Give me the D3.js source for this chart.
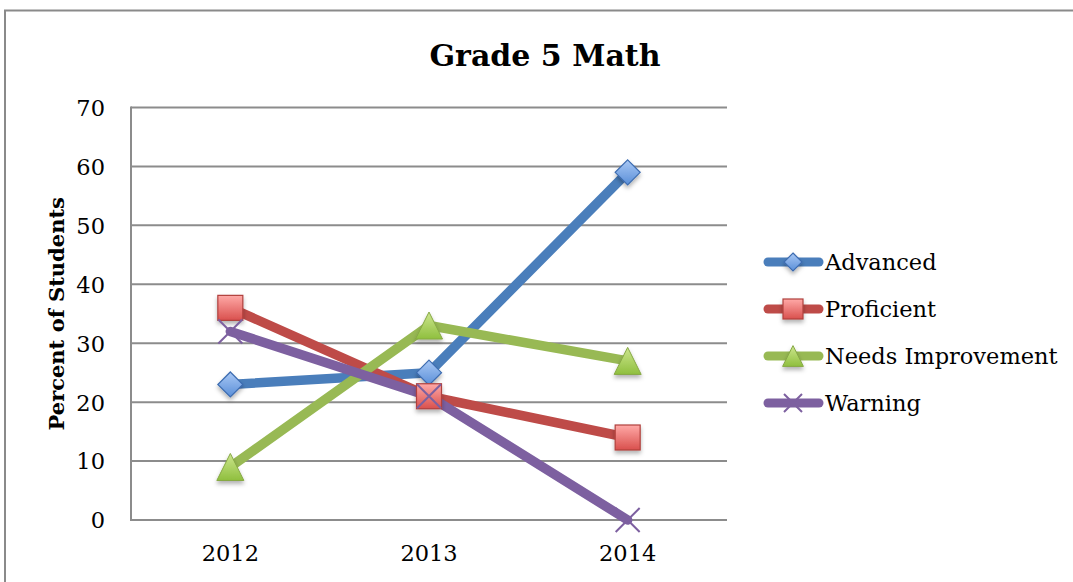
<!DOCTYPE html>
<html><head><meta charset="utf-8">
<script src="https://cdn.jsdelivr.net/npm/d3@7"></script>
<style>html,body{margin:0;padding:0;background:#fff;}svg{display:block;}</style>
</head><body>
<svg id="chart" width="1073" height="582"></svg>
<script>
const categories = ["2012", "2013", "2014"];
const seriesNames = ["Advanced", "Proficient", "Needs Improvement", "Warning"];
const advanced = [23, 25, 59];
const proficient = [36, 21, 14];
const needsImprovement = [9, 33, 27];
const warning = [32, 21, 0];
const yTicks = [0, 10, 20, 30, 40, 50, 60, 70];
const title = "Grade 5 Math";
const yTitle = "Percent of Students";

const seriesValues = [advanced, proficient, needsImprovement, warning];
const styles = [
  {line:"#4a7ebb", light:"#a9c8f5", dark:"#5a8fd8", stroke:"#3d6cb0", marker:"diamond"},
  {line:"#be4b48", light:"#ffa9a7", dark:"#d9504d", stroke:"#b0403d", marker:"square"},
  {line:"#98b954", light:"#cde68e", dark:"#8fbf3e", stroke:"#86a844", marker:"triangle"},
  {line:"#7d60a0", light:"#7d60a0", dark:"#7d60a0", stroke:"#7d60a0", marker:"x"}
];

const svg = d3.select("#chart");
const font = "'DejaVu Serif', serif";
const defs = svg.append("defs");
styles.forEach((s,i)=>{
  const g = defs.append("linearGradient").attr("id","g"+i).attr("x1",0).attr("y1",0).attr("x2",0).attr("y2",1);
  g.append("stop").attr("offset","0%").attr("stop-color",s.light);
  g.append("stop").attr("offset","100%").attr("stop-color",s.dark);
});
const f = defs.append("filter").attr("id","shadow").attr("x","-50%").attr("y","-50%").attr("width","200%").attr("height","200%");
f.append("feDropShadow").attr("dx",0).attr("dy",3).attr("stdDeviation",2).attr("flood-color","#000").attr("flood-opacity",0.3);

// outer border
svg.append("rect").attr("x",5).attr("y",10.5).attr("width",1200).attr("height",700)
  .attr("fill","#fff").attr("stroke","#8a8a8a").attr("stroke-width",2);

const plot = {left:131, right:727, top:107.5, bottom:520};
const x = d3.scaleBand().domain(categories).range([plot.left, plot.right]);
const y = d3.scaleLinear().domain([0,70]).range([plot.bottom, plot.top]);

// gridlines
svg.append("g").selectAll("line").data(yTicks).join("line")
  .attr("x1",plot.left).attr("x2",plot.right)
  .attr("y1",d=>y(d)).attr("y2",d=>y(d))
  .attr("stroke","#8c8c8c").attr("stroke-width",2);
// y axis line
svg.append("line").attr("x1",plot.left).attr("x2",plot.left).attr("y1",plot.top-1).attr("y2",plot.bottom+1)
  .attr("stroke","#8c8c8c").attr("stroke-width",2);

// y axis labels
const yAxis = d3.axisLeft(y).tickValues(yTicks).tickSize(0).tickPadding(26);
const yg = svg.append("g").attr("transform",`translate(${plot.left},0)`).call(yAxis);
yg.select(".domain").remove();
yg.selectAll("text").attr("font-family",font).attr("font-size",22.5).attr("fill","#000").attr("dy","0.35em");

// x axis labels
const xAxis = d3.axisBottom(x).tickSize(0).tickPadding(25);
const xg = svg.append("g").attr("transform",`translate(0,${plot.bottom})`).call(xAxis);
xg.select(".domain").remove();
xg.selectAll("text").attr("font-family",font).attr("font-size",22.5).attr("fill","#000");

// title
svg.append("text").attr("x",545).attr("y",66).attr("text-anchor","middle")
  .attr("font-family",font).attr("font-weight","bold").attr("font-size",30).text(title);
svg.append("text").attr("transform",`translate(64,${(plot.top+plot.bottom)/2}) rotate(-90)`)
  .attr("text-anchor","middle").attr("font-family",font).attr("font-weight","bold").attr("font-size",21).text(yTitle);

function drawMarker(g, type, i, size){
  const s = styles[i];
  const h = size*0.5;
  if(type==="diamond"){
    g.append("path").attr("d",`M0,${-h}L${h},0L0,${h}L${-h},0Z`)
      .attr("fill",`url(#g${i})`).attr("stroke",s.stroke).attr("stroke-width",1.2);
  } else if(type==="square"){
    g.append("rect").attr("x",-h).attr("y",-h).attr("width",size).attr("height",size)
      .attr("fill",`url(#g${i})`).attr("stroke",s.stroke).attr("stroke-width",1.2);
  } else if(type==="triangle"){
    const w=size*0.52, hh=size*0.52;
    g.append("path").attr("d",`M0,${-hh}L${w},${hh}L${-w},${hh}Z`)
      .attr("fill",`url(#g${i})`).attr("stroke",s.stroke).attr("stroke-width",1);
  } else {
    g.append("path").attr("d",`M${-h},${-h}L${h},${h}M${-h},${h}L${h},${-h}`)
      .attr("stroke",s.stroke).attr("stroke-width",2).attr("fill","none");
  }
}

const line = d3.line().x((d,j)=>x(categories[j])+x.bandwidth()/2).y(d=>y(d));
const sizes = [25, 25, 26, 24];
seriesValues.forEach((vals,i)=>{
  svg.append("path").datum(vals).attr("d",line).attr("fill","none")
    .attr("stroke",styles[i].line).attr("stroke-width",9.5).attr("stroke-linejoin","round").attr("stroke-linecap","round");
});
seriesValues.forEach((vals,i)=>{
  vals.forEach((v,j)=>{
    const g = svg.append("g").attr("transform",`translate(${x(categories[j])+x.bandwidth()/2},${y(v)})`)
      .attr("filter", i===3 ? null : "url(#shadow)");
    drawMarker(g, styles[i].marker, i, sizes[i]);
  });
});

// legend
const legendY = [262, 309, 356, 403];
seriesNames.forEach((name,i)=>{
  const yy = legendY[i];
  svg.append("line").attr("x1",768).attr("x2",819).attr("y1",yy).attr("y2",yy)
    .attr("stroke",styles[i].line).attr("stroke-width",9).attr("stroke-linecap","round");
  const g = svg.append("g").attr("transform",`translate(793,${yy})`).attr("filter", i===3?null:"url(#shadow)");
  drawMarker(g, styles[i].marker, i, [18,20,20,18][i]);
  svg.append("text").attr("x",825).attr("y",yy).attr("dy","0.35em")
    .attr("font-family",font).attr("font-size",22.5).text(name);
});
</script>
</body></html>
